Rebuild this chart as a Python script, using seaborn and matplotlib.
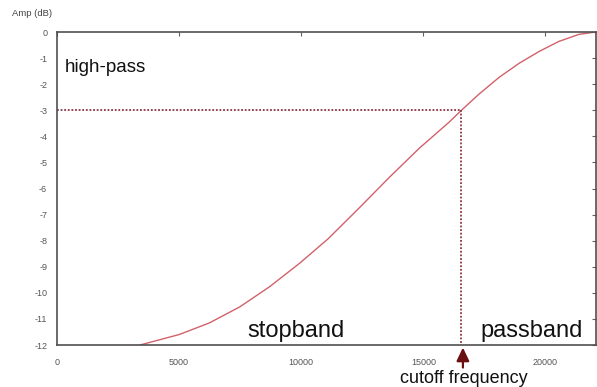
import matplotlib
matplotlib.use("Agg")
import matplotlib.pyplot as plt
import seaborn as sns
import pandas as pd

# High-pass magnitude response (Hz, dB)
freq_hz = [3400, 5000, 6250, 7500, 8700, 9930, 11100, 12380, 13600, 14830,
           16050, 16560, 17280, 18100, 18920, 19730, 20550, 21370, 22050]
amp_db = [-12.0, -11.6, -11.15, -10.53, -9.77, -8.87, -7.93, -6.74, -5.58,
          -4.46, -3.46, -3.0, -2.38, -1.74, -1.20, -0.75, -0.36, -0.09, 0.0]

cutoff_hz = 16560
cutoff_db = -3.0

x_ticks = [0, 5000, 10000, 15000, 20000]
y_ticks = [0, -1, -2, -3, -4, -5, -6, -7, -8, -9, -10, -11, -12]

sns.set_style("white")
plt.rcParams["font.family"] = ["Liberation Sans", "DejaVu Sans"]

fig = plt.figure(figsize=(5.97, 3.87), dpi=100)
ax = fig.add_axes([0.0953, 0.1085, 0.9023, 0.8088])

df = pd.DataFrame({"freq": freq_hz, "amp": amp_db})
sns.lineplot(data=df, x="freq", y="amp", ax=ax, color="#d2616a", lw=1.0)

# -3 dB guides
dot_color = "#8a3442"
ax.plot([0, cutoff_hz], [cutoff_db, cutoff_db], color=dot_color,
        linestyle=(0, (1, 1)), lw=1.3)
ax.plot([cutoff_hz, cutoff_hz], [cutoff_db, -12], color=dot_color,
        linestyle=(0, (1, 1)), lw=1.3)

ax.set_xlim(0, 22050)
ax.set_ylim(-12, 0)
ax.set_xticks(x_ticks)
ax.set_xticklabels([str(t) for t in x_ticks])
ax.set_yticks(y_ticks)
ax.set_yticklabels([str(t) for t in y_ticks])
ax.set_xlabel("")
ax.set_ylabel("")

for s in ax.spines.values():
    s.set_color("#505050")
    s.set_linewidth(1.2)
    s.set_visible(True)

ax.tick_params(axis="both", which="both", direction="in", length=3,
               width=0.8, color="#606060", labelcolor="#555555",
               labelsize=6.5, top=True, right=True)
ax.tick_params(axis="x", pad=9)
ax.tick_params(axis="y", pad=7)

# Labels
fig.text(0.0196, 0.966, "Amp (dB)", fontsize=6.8, color="#444444",
         ha="left", va="center")
ax.text(330, -1.52, "high-pass", fontsize=13.5, color="#111111",
        ha="left", va="baseline")
ax.text(7810, -11.7, "stopband", fontsize=17, color="#111111",
        ha="left", va="baseline")
ax.text(17350, -11.7, "passband", fontsize=17, color="#111111",
        ha="left", va="baseline")

# Cutoff marker below the axis
ax.annotate("", xy=(cutoff_hz + 60, -0.008), xycoords=("data", "axes fraction"),
            xytext=(cutoff_hz + 60, -0.072), textcoords=("data", "axes fraction"),
            arrowprops=dict(arrowstyle="-|>,head_length=0.8,head_width=0.38",
                            color="#6a1010", lw=1.6, shrinkA=0, shrinkB=0),
            annotation_clip=False)
ax.text(16670, -0.1224, "cutoff frequency", transform=ax.get_xaxis_transform(),
        fontsize=13, color="#111111", ha="center", va="baseline",
        clip_on=False)

fig.savefig("out.png", dpi=100)
